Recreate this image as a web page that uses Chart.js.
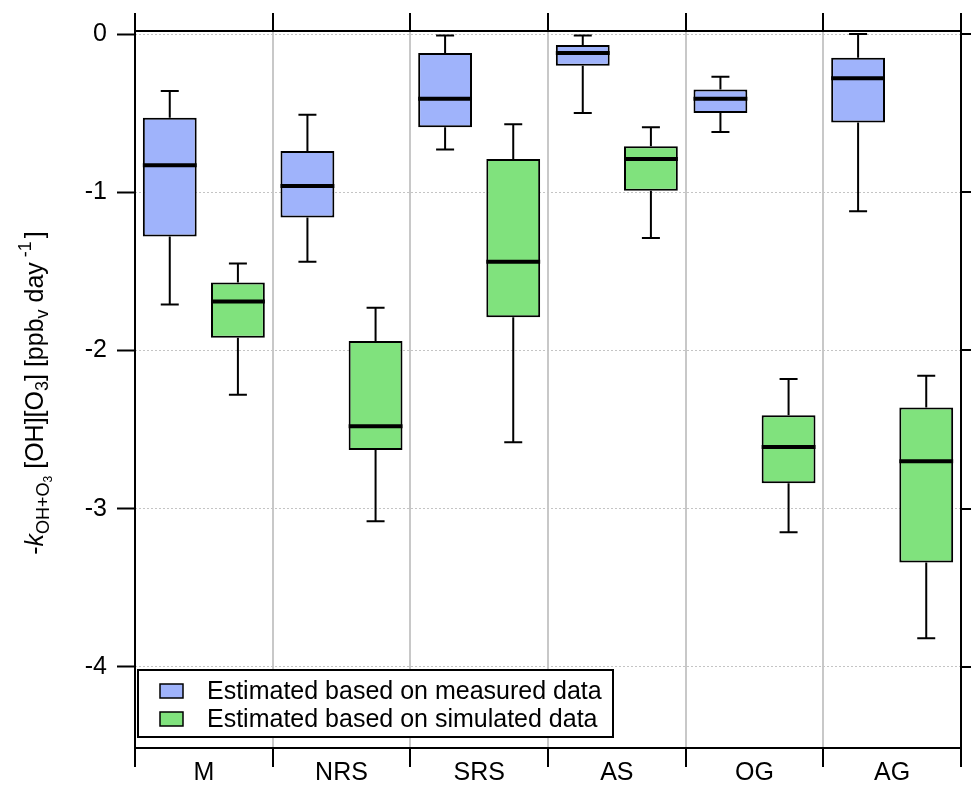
<!DOCTYPE html>
<html>
<head>
<meta charset="utf-8">
<script src="https://cdn.jsdelivr.net/npm/chart.js@4"></script>
<style>
  body { margin: 0; background: #fff; }
  #chart { display: block; }
</style>
</head>
<body>
<canvas id="chart" width="971" height="786"></canvas>
<script>
// Box plot statistics
const categories = ['M', 'NRS', 'SRS', 'AS', 'OG', 'AG'];

const measuredMax    = [-0.36, -0.51, -0.01, -0.01, -0.27,  0.00];
const measuredQ3     = [-0.53, -0.74, -0.12, -0.07, -0.35, -0.15];
const measuredMedian = [-0.83, -0.96, -0.41, -0.12, -0.41, -0.28];
const measuredQ1     = [-1.28, -1.16, -0.59, -0.20, -0.50, -0.56];
const measuredMin    = [-1.71, -1.44, -0.73, -0.50, -0.62, -1.12];

const simulatedMax    = [-1.45, -1.73, -0.57, -0.59, -2.18, -2.16];
const simulatedQ3     = [-1.57, -1.94, -0.79, -0.71, -2.41, -2.36];
const simulatedMedian = [-1.69, -2.48, -1.44, -0.79, -2.61, -2.70];
const simulatedQ1     = [-1.92, -2.63, -1.79, -0.99, -2.84, -3.34];
const simulatedMin    = [-2.28, -3.08, -2.58, -1.29, -3.15, -3.82];

const yTicks = [0, -1, -2, -3, -4];
const seriesLabels = ['Estimated based on measured data', 'Estimated based on simulated data'];

const BLUE = '#9fb3fb';
const GREEN = '#80e27d';
const FONT = '"Liberation Sans", Arial, sans-serif';

const stats = [
    { min: measuredMin, q1: measuredQ1, med: measuredMedian, q3: measuredQ3, max: measuredMax },
    { min: simulatedMin, q1: simulatedQ1, med: simulatedMedian, q3: simulatedQ3, max: simulatedMax }
];

// whiskers + median lines on top of the floating bars
const boxWhiskers = {
    id: 'boxWhiskers',
    afterDatasetsDraw(chart) {
        const ctx = chart.ctx;
        const y = chart.scales.y;
        ctx.save();
        ctx.strokeStyle = '#000';
        stats.forEach((s, d) => {
            const meta = chart.getDatasetMeta(d);
            meta.data.forEach((bar, i) => {
                const x = bar.x;
                const half = bar.width / 2;
                const yMax = y.getPixelForValue(s.max[i]);
                const yQ3 = y.getPixelForValue(s.q3[i]);
                const yQ1 = y.getPixelForValue(s.q1[i]);
                const yMin = y.getPixelForValue(s.min[i]);
                const yMed = y.getPixelForValue(s.med[i]);

                ctx.lineWidth = 2;
                ctx.beginPath();
                ctx.moveTo(x, yMax); ctx.lineTo(x, yQ3);
                ctx.moveTo(x, yQ1); ctx.lineTo(x, yMin);
                ctx.moveTo(x - 9, yMax); ctx.lineTo(x + 9, yMax);
                ctx.moveTo(x - 9, yMin); ctx.lineTo(x + 9, yMin);
                ctx.stroke();

                ctx.lineWidth = 4;
                ctx.beginPath();
                ctx.moveTo(x - half, yMed); ctx.lineTo(x + half, yMed);
                ctx.stroke();
            });
        });
        ctx.restore();
    }
};

// frame, outer ticks on top/right/bottom, axis title and legend
const frameAndLegend = {
    id: 'frameAndLegend',
    afterDraw(chart) {
        const ctx = chart.ctx;
        const area = chart.chartArea;
        const xs = chart.scales.x;
        const ys = chart.scales.y;
        ctx.save();

        ctx.strokeStyle = '#000';
        ctx.lineWidth = 2;
        ctx.strokeRect(area.left, area.top, area.right - area.left, area.bottom - area.top);

        ctx.beginPath();
        for (let i = 0; i <= categories.length; i++) {
            const bx = Math.round(xs.getPixelForValue(i - 0.5));
            ctx.moveTo(bx, area.top); ctx.lineTo(bx, area.top - 18);
            ctx.moveTo(bx, area.bottom); ctx.lineTo(bx, area.bottom + 19);
        }
        yTicks.forEach(v => {
            const py = Math.round(ys.getPixelForValue(v));
            ctx.moveTo(area.right, py); ctx.lineTo(area.right + 12, py);
        });
        ctx.stroke();

        // rotated y title with sub/superscripts
        const parts = [
            { t: '-', size: 25, dy: 0 },
            { t: 'k', size: 25, dy: 0, italic: true },
            { t: 'OH+O', size: 18, dy: 6 },
            { t: '3', size: 12, dy: 9 },
            { t: ' [OH][O', size: 25, dy: 0 },
            { t: '3', size: 18, dy: 5 },
            { t: '] [ppb', size: 25, dy: 0 },
            { t: 'v', size: 18, dy: 5 },
            { t: ' day', size: 25, dy: 0 },
            { t: ' -1', size: 18, dy: -12 },
            { t: '', size: 25, dy: 0, gap: 3 },
            { t: ']', size: 25, dy: 0 }
        ];
        const fontFor = p => (p.italic ? 'italic ' : '') + p.size + 'px ' + FONT;
        let total = 0;
        parts.forEach(p => {
            ctx.font = fontFor(p);
            p.w = ctx.measureText(p.t).width + (p.gap || 0);
            total += p.w;
        });
        ctx.translate(43, 393);
        ctx.rotate(-Math.PI / 2);
        ctx.fillStyle = '#000';
        ctx.textBaseline = 'alphabetic';
        let cx = -total / 2;
        parts.forEach(p => {
            ctx.font = fontFor(p);
            ctx.fillText(p.t, cx, p.dy);
            cx += p.w;
        });
        ctx.setTransform(1, 0, 0, 1, 0, 0);

        // legend box inside the plot
        ctx.fillStyle = '#fff';
        ctx.fillRect(138, 670, 475, 67);
        ctx.lineWidth = 2;
        ctx.strokeRect(138, 670, 475, 67);
        const swatches = [BLUE, GREEN];
        const rowY = [691, 719];
        ctx.font = '25px ' + FONT;
        seriesLabels.forEach((label, k) => {
            ctx.fillStyle = swatches[k];
            ctx.fillRect(160, rowY[k] - 7, 23, 14);
            ctx.lineWidth = 1.5;
            ctx.strokeRect(160, rowY[k] - 7, 23, 14);
            ctx.fillStyle = '#000';
            ctx.fillText(label, 207, rowY[k] + 8);
        });

        ctx.restore();
    }
};

const ctx = document.getElementById('chart').getContext('2d');
new Chart(ctx, {
    type: 'bar',
    data: {
        labels: categories,
        datasets: [
            {
                label: seriesLabels[0],
                data: categories.map((c, i) => [measuredQ1[i], measuredQ3[i]]),
                backgroundColor: BLUE,
                borderColor: '#000',
                borderWidth: 2,
                borderSkipped: false
            },
            {
                label: seriesLabels[1],
                data: categories.map((c, i) => [simulatedQ1[i], simulatedQ3[i]]),
                backgroundColor: GREEN,
                borderColor: '#000',
                borderWidth: 2,
                borderSkipped: false
            }
        ]
    },
    options: {
        responsive: false,
        animation: false,
        categoryPercentage: 0.99,
        barPercentage: 0.79,
        layout: { padding: { top: 31, right: 10, left: 0, bottom: 0 } },
        plugins: {
            legend: { display: false },
            tooltip: { enabled: false }
        },
        scales: {
            x: {
                offset: true,
                grid: { offset: true, color: '#c8c8c8', lineWidth: 2, drawTicks: false },
                border: { display: false },
                ticks: { color: '#000', font: { family: FONT, size: 25 }, padding: 10 },
                afterFit(scale) { scale.height = 38; }
            },
            y: {
                min: -4.513,
                max: 0.019,
                afterBuildTicks(scale) { scale.ticks = yTicks.map(v => ({ value: v })); },
                grid: {
                    color: '#c4c4c4',
                    lineWidth: 1,
                    tickColor: '#000',
                    tickWidth: 2,
                    tickLength: 18,
                    tickBorderDash: []
                },
                border: { display: false, dash: [2, 2] },
                ticks: { color: '#000', font: { family: FONT, size: 25 }, padding: 10 },
                afterFit(scale) { scale.width = 135; }
            }
        }
    },
    plugins: [boxWhiskers, frameAndLegend]
});
</script>
</body>
</html>
